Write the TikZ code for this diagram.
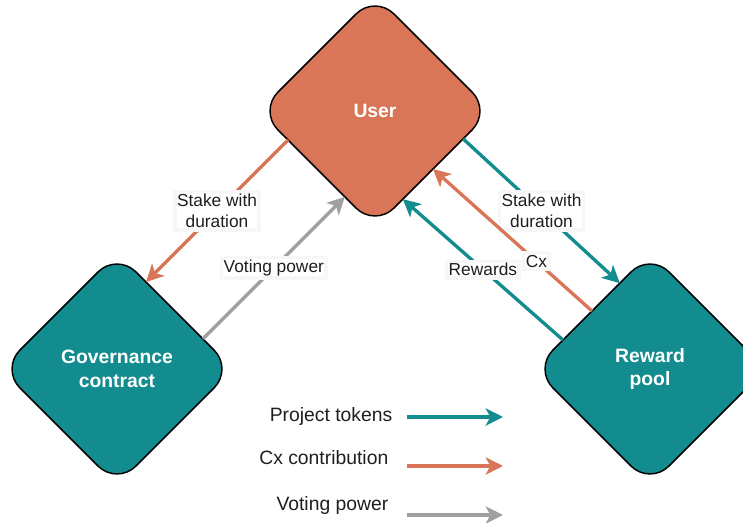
\documentclass[tikz,border=0pt]{standalone}
\usepackage{fontspec}
\setmainfont{Liberation Sans}
\usetikzlibrary{calc,positioning,arrows.meta,shapes.geometric}
\definecolor{userorange}{HTML}{D87657}
\definecolor{poolteal}{HTML}{128C8F}
\definecolor{flowgray}{HTML}{A0A0A0}
\definecolor{labelgray}{HTML}{1E1E1E}

\begin{document}
\begin{tikzpicture}[x=0.75pt,y=-0.75pt,
  actor/.style={draw=black,line width=1.1pt,shape=diamond,aspect=1,minimum width=174pt,minimum height=174pt,rounded corners=20pt,outer sep=0pt,inner sep=0pt,text=white,align=center,font=\fontsize{14.5}{17.5}\selectfont\bfseries},
  flow/.style={line width=2.5pt,-{Stealth[length=13pt,width=13pt,inset=3.5pt]}},
  flowlabel/.style={fill=white,draw=black!3,text=labelgray,align=center,inner sep=1.5pt,font=\fontsize{13}{16}\selectfont},
  legendtext/.style={anchor=east,text=labelgray,font=\fontsize{14.5}{17}\selectfont}
  ]
  \useasboundingbox (0,0) rectangle (743,523);

  \node [actor,fill=userorange] at (375,111) (user) {User};
  \node [actor,fill=poolteal] at (117,369) (gov) {Governance\\contract};
  \node [actor,fill=poolteal] at (650,369) (pool) {Reward\\pool};

  % user <-> governance contract
  \draw [flow,userorange] ($(user.west)!0.25!(user.south)$) -- ($(gov.north)!0.25!(gov.east)$) node [flowlabel,pos=0.5] (stake_gov) {Stake with\\duration};
  \draw [flow,flowgray] ($(gov.north)!0.74!(gov.east)$) -- ($(user.west)!0.74!(user.south)$) node [flowlabel,pos=0.5] (voting) {Voting power};

  % user <-> reward pool
  \draw [flow,poolteal] ($(user.east)!0.24!(user.south)$) -- ($(pool.north)!0.26!(pool.west)$) node [flowlabel,pos=0.5] (stake_pool) {Stake with\\duration};
  \draw [flow,userorange] ($(pool.north)!0.5!(pool.west)$) -- ($(user.east)!0.5!(user.south)$) node [flowlabel,pos=0.35] (cx) {Cx};
  \draw [flow,poolteal] ($(pool.north)!0.75!(pool.west)$) -- ($(user.east)!0.76!(user.south)$) node [flowlabel,pos=0.5] (rewards) {Rewards};

  %legend
  \node [legendtext] at (397,417) (leg_tokens) {Project tokens};
  \node [legendtext] at (393,458) (leg_cx) {Cx contribution};
  \node [legendtext] at (393,506) (leg_voting) {Voting power};

  \coordinate (tokens_from) at (407,417);
  \coordinate (tokens_to) at (503,417);
  \coordinate (cx_from) at (407,466);
  \coordinate (cx_to) at (503,466);
  \coordinate (voting_from) at (407,515);
  \coordinate (voting_to) at (503,515);

  \draw [flow,poolteal] (tokens_from) -- (tokens_to);
  \draw [flow,userorange] (cx_from) -- (cx_to);
  \draw [flow,flowgray] (voting_from) -- (voting_to);

\end{tikzpicture}
\end{document}
